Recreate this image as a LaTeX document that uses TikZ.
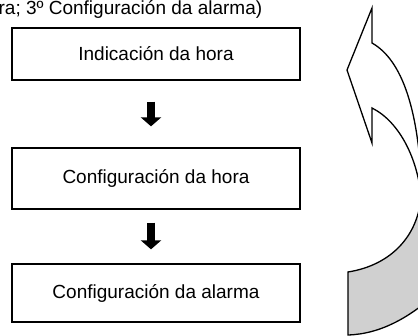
\documentclass[tikz,border=0pt]{standalone}
\usepackage{fontspec}
\setmainfont{Liberation Sans}
\usetikzlibrary{arrows.meta}
\definecolor{backgray}{RGB}{208,208,208}
\begin{document}
\begin{tikzpicture}[x=1pt,y=-1pt,line width=1.3pt,
  caixa/.style={draw,minimum width=288pt,inner sep=0pt,font=\fontsize{19}{22}\selectfont},
  frecha/.style={line width=8pt,-{Triangle[width=20pt,length=9pt]},shorten <=21pt,shorten >=21pt}]
\useasboundingbox (0,0) rectangle (418,336);
\node[anchor=base west,inner sep=0pt,font=\fontsize{19}{22}\selectfont] (titulo) at (-2,15) {ra; 3º Configuración da alarma)};
\node[caixa,minimum height=52pt] (hora) at (156,54) {Indicación da hora};
\node[caixa,minimum height=61pt] (confhora) at (156,178.5) {Configuración da hora};
\node[caixa,minimum height=58pt] (confalarma) at (156,293) {Configuración da alarma};
\draw[frecha] ([xshift=-5pt]hora.south) -- ([xshift=-5pt]confhora.north);
\draw[frecha,shorten <=13pt,shorten >=14pt] ([xshift=-5pt]confhora.south) -- ([xshift=-5pt]confalarma.north);
% curved arrow, cut by the right edge
\begin{scope}
\clip (0,0) rectangle (418,336);
\filldraw[fill=backgray] (421,197) .. controls (418,235) and (392,265) .. (348,272)
  -- (348,335) .. controls (380,334) and (410,318) .. (440,290) -- (440,197) -- cycle;
\filldraw[fill=white] (372,43) -- (372,8) -- (347,70) -- (372,143) -- (372,108)
  .. controls (400,122) and (418,160) .. (421,197) -- (430,200) -- (422,200)
  .. controls (420,110) and (402,60) .. (372,43) -- cycle;
\end{scope}
\end{tikzpicture}
\end{document}
